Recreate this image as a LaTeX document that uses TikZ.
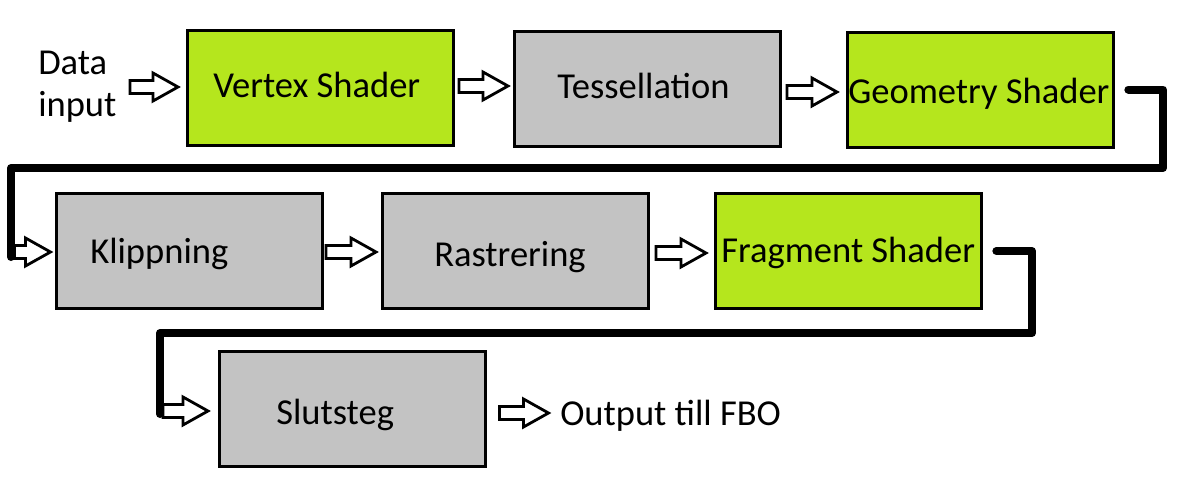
\documentclass[tikz,border=0pt]{standalone}
\usepackage{fontspec}
\setmainfont{Carlito}
\definecolor{lime}{RGB}{181,230,29}
\definecolor{paintgray}{RGB}{195,195,195}
\tikzset{
  stagebox/.style={draw=black, line width=2.25pt, minimum width=199.5pt, minimum height=86.25pt, inner sep=0pt},
  greenbox/.style={stagebox, fill=lime},
  graybox/.style={stagebox, fill=paintgray},
  lbl/.style={anchor=base west, inner sep=0pt, font=\fontsize{27.4pt}{31pt}\selectfont},
  hollow/.style={draw=black, fill=white, line width=2.1pt, line join=miter},
  bigline/.style={draw=black, line width=6pt, line cap=round, line join=round},
}
% hollow block arrow: name, centre, total length (px)
\newcommand\blockarrow[3]{%
  \coordinate (#1) at #2;
  \draw[hollow, shift={(#1)}] (-#3/2,-6.5) -- (#3/2-25,-6.5) -- (#3/2-25,-14) -- (#3/2,0)
     -- (#3/2-25,14) -- (#3/2-25,6.5) -- (-#3/2,6.5) -- cycle;}
\begin{document}
\begin{tikzpicture}[x=0.75pt,y=-0.75pt]
\useasboundingbox (0,0) rectangle (1178,489);
% boxes
\node[greenbox] (vs) at (320.7,87.5) {};
\node[graybox] (tess) at (647.7,88.5) {};
\node[greenbox] (geo) at (980.5,89.5) {};
\node[graybox] (klip) at (189,250.5) {};
\node[graybox] (rast) at (515.7,251) {};
\node[greenbox] (frag) at (848.5,251) {};
\node[graybox] (slut) at (352,408.5) {};
% labels
\node[lbl, align=left, anchor=north west] (data) at (38,51) {Data\\input};
\node[lbl] (vsT) at (213,97) {Vertex Shader};
\node[lbl] (tessT) at (557,98) {Tessellation};
\node[lbl] (geoT) at (848,103) {Geometry Shader};
\node[lbl] (klipT) at (90,263) {Klippning};
\node[lbl] (rastT) at (434,266) {Rastrering};
\node[lbl] (fragT) at (721,262) {Fragment Shader};
\node[lbl] (slutT) at (276,424) {Slutsteg};
\node[lbl] (outT) at (560,425) {Output till FBO};
% connectors (thick)
\coordinate (c1) at (1163,168);
\coordinate (c2) at (1032,333);
\draw[bigline] ([xshift=10pt]geo.east) -| (c1) -| (11,257);
\draw[bigline] ([xshift=10pt]frag.east) -| (c2) -| (160,414);
% hollow arrows
\blockarrow{a1}{(154,87)}{48}
\blockarrow{a2}{(483.5,86)}{49}
\blockarrow{a3}{(812,92)}{50}
\blockarrow{ak}{(32.5,252)}{36}
\blockarrow{a4}{(351,252)}{50}
\blockarrow{a5}{(681,253)}{50}
\blockarrow{as}{(185.5,411)}{45}
\blockarrow{a6}{(524,413)}{49}
\end{tikzpicture}
\end{document}
